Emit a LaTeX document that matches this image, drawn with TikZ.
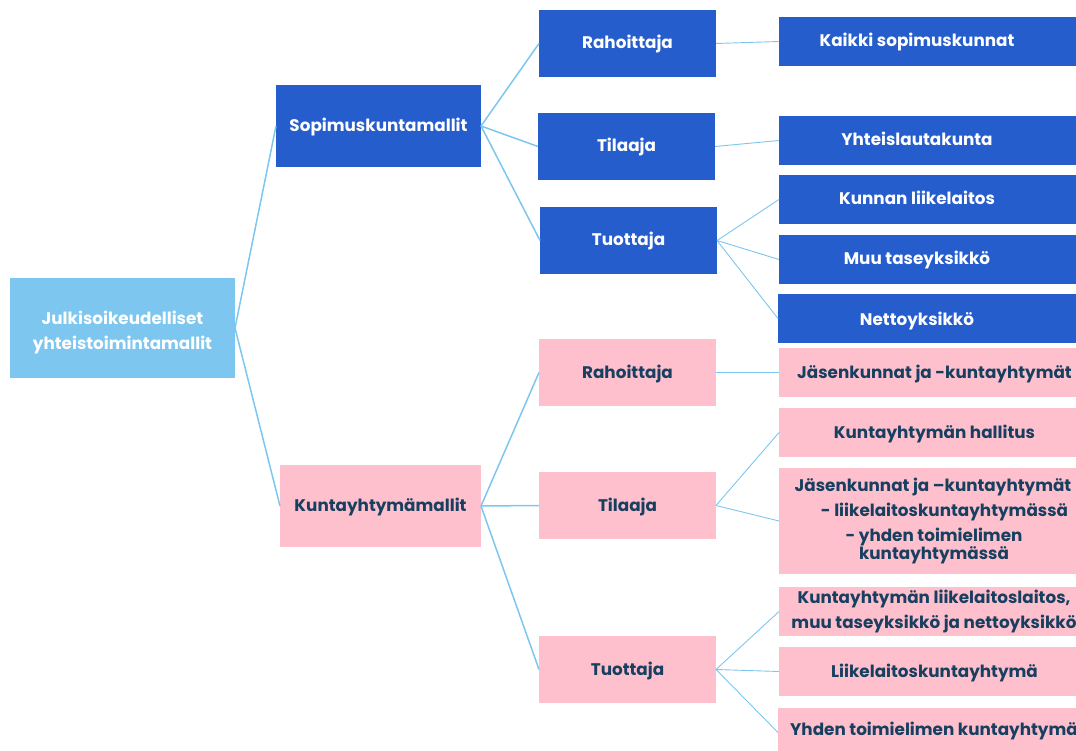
\documentclass[tikz,border=0pt]{standalone}
\usepackage{fontspec}
\setmainfont{Poppins}
\definecolor{cblue}{HTML}{265DCD}
\definecolor{cpink}{HTML}{FFC0CE}
\definecolor{clight}{HTML}{7CC6EF}
\definecolor{cnavy}{HTML}{173F5F}
\tikzset{
  box/.style={inner sep=0pt, outer sep=0pt, align=center, text height=14pt, text depth=3pt, font=\fontsize{16.8}{25}\selectfont\bfseries},
  bluebox/.style={box, fill=cblue, text=white},
  pinkbox/.style={box, fill=cpink, text=cnavy},
  rootbox/.style={inner sep=0pt, outer sep=0pt, fill=clight},
  txt/.style={inner sep=0pt, align=center, text height=14pt, text depth=3pt, font=\fontsize{16.8}{25}\selectfont\bfseries},
  multitxt/.style={inner sep=0pt, align=center, font=\fontsize{16.8}{25}\selectfont\bfseries},
  conn/.style={draw=clight, line width=1.5pt},
  thin/.style={draw=clight, line width=0.9pt},
}
\begin{document}
\begin{tikzpicture}[x=1pt,y=-1pt]
\useasboundingbox (0,0) rectangle (1076,751);
% level 0 and 1
\node[rootbox, minimum width=225, minimum height=100] (root) at (122.5,328) {};
\node[multitxt, text=white] (roott) at (122.5,332) {Julkisoikeudelliset\\yhteistoimintamallit};
\node[bluebox, minimum width=205, minimum height=82] (sop) at (378.5,126) {Sopimuskuntamallit};
\node[pinkbox, minimum width=201, minimum height=82] (kun) at (380.5,506) {Kuntayhtymämallit};
% level 2
\node[bluebox, minimum width=177, minimum height=67] (bR) at (627.5,43.5) {Rahoittaja};
\node[bluebox, minimum width=177, minimum height=67] (bT) at (626.5,146.5) {Tilaaja};
\node[bluebox, minimum width=177, minimum height=67] (bP) at (628.5,240.5) {Tuottaja};
\node[pinkbox, minimum width=177, minimum height=67] (pR) at (627.5,372.5) {Rahoittaja};
\node[pinkbox, minimum width=177, minimum height=67] (pT) at (627.5,505.5) {Tilaaja};
\node[pinkbox, minimum width=177, minimum height=67] (pP) at (627.5,669.5) {Tuottaja};
% level 3 blue
\node[bluebox, minimum width=311, minimum height=49] (c1) at (934.5,41.5) {};
\node[bluebox, minimum width=311, minimum height=49] (c2) at (934.5,140.5) {};
\node[bluebox, minimum width=311, minimum height=49] (c3) at (934.5,199.5) {};
\node[bluebox, minimum width=311, minimum height=49] (c4) at (934.5,259.5) {};
\node[bluebox, minimum width=312, minimum height=49] (c5) at (934,318.5) {};
\node[txt, text=white] (c1t) at (917,41.5) {Kaikki sopimuskunnat};
\node[txt, text=white] (c2t) at (917,140.5) {Yhteislautakunta};
\node[txt, text=white] (c3t) at (917,199.5) {Kunnan liikelaitos};
\node[txt, text=white] (c4t) at (917,259.5) {Muu taseyksikkö};
\node[txt, text=white] (c5t) at (917,320) {Nettoyksikkö};
% level 3 pink
\node[pinkbox, minimum width=311, minimum height=49] (d1) at (934.5,372.5) {Jäsenkunnat ja -kuntayhtymät};
\node[pinkbox, minimum width=311, minimum height=49] (d2) at (934.5,432.5) {Kuntayhtymän hallitus};
\node[pinkbox, minimum width=311, minimum height=106] (d3) at (934.5,521) {};
\node[txt, text=cnavy] (d3a) at (933,486) {Jäsenkunnat ja –kuntayhtymät};
\node[txt, text=cnavy] (d3b) at (944.5,511) {- liikelaitoskuntayhtymässä};
\node[txt, text=cnavy] (d3c) at (934,536) {- yhden toimielimen};
\node[txt, text=cnavy] (d3d) at (934,554) {kuntayhtymässä};
\node[pinkbox, minimum width=311, minimum height=49] (d4) at (934.5,611.5) {};
\node[txt, text=cnavy] (d4a) at (934,598) {Kuntayhtymän liikelaitoslaitos,};
\node[txt, text=cnavy] (d4b) at (934,623) {muu taseyksikkö ja nettoyksikkö};
\node[pinkbox, minimum width=311, minimum height=49] (d5) at (934.5,671.5) {Liikelaitoskuntayhtymä};
\node[pinkbox, minimum width=312, minimum height=49] (d6) at (934,732.5) {};
\node[txt, text=cnavy] (d6t) at (934,730) {Yhden toimielimen kuntayhtymä};
% connectors
\path[conn] (root.east) -- (sop.west);
\path[conn] (root.east) -- (kun.west);
\path[conn] (sop.east) -- (bR.west);
\path[conn] (sop.east) -- (bT.west);
\path[conn] (sop.east) -- (bP.west);
\path[conn] (kun.east) -- (pR.west);
\path[conn] (kun.east) -- (pT.west);
\path[conn] (kun.east) -- (pP.west);
\path[thin] (bR.east) -- (c1.west);
\path[thin] (bT.east) -- (c2.west);
\path[thin] (bP.east) -- (c3.west);
\path[thin] (bP.east) -- (c4.west);
\path[thin] (bP.east) -- (c5.west);
\path[thin] (pR.east) -- (d1.west);
\path[thin] (pT.east) -- (d2.west);
\path[thin] (pT.east) -- (d3.west);
\path[thin] (pP.east) -- (d4.west);
\path[thin] (pP.east) -- (d5.west);
\path[thin] (pP.east) -- (d6.west);
\end{tikzpicture}
\end{document}
